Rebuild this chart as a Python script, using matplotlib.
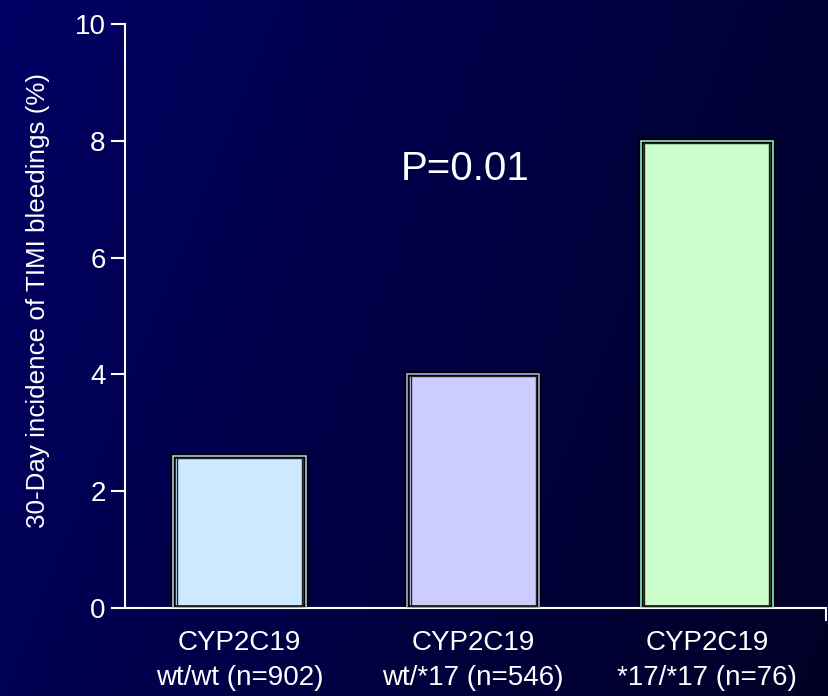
import numpy as np
import matplotlib
matplotlib.use("Agg")
import matplotlib.pyplot as plt

# data
categories = ["CYP2C19\nwt/wt (n=902)", "CYP2C19\nwt/*17 (n=546)", "CYP2C19\n*17/*17 (n=76)"]
values = [2.6, 4.0, 8.0]
bar_colors = ["#cce9ff", "#ccccff", "#ccffcc"]
rim_colors = ["#a8c8e8", "#a8a8e0", "#88e8c8"]
yticks = [0, 2, 4, 6, 8, 10]

plt.rcParams["font.family"] = ["Liberation Sans", "DejaVu Sans"]

fig = plt.figure(figsize=(8.29, 6.96), dpi=100)

# gradient background
bg = fig.add_axes([0, 0, 1, 1], zorder=-10)
gx, gy = np.meshgrid(np.linspace(0, 1, 200), np.linspace(0, 1, 200))
blue = 0.39 - 0.18 * gx - 0.06 * gy
img = np.zeros((200, 200, 3))
img[..., 2] = blue
bg.imshow(img, aspect="auto", extent=[0, 1, 0, 1], origin="upper")
bg.axis("off")

ax = fig.add_axes([0.1508, 0.1264, 0.8456, 0.8391])
ax.patch.set_alpha(0)

x = np.arange(len(values))
w = 0.565
ax.bar(x, values, width=w, color=bar_colors, edgecolor="black", linewidth=4, zorder=2)
ax.bar(x, values, width=w, color="none", edgecolor=rim_colors, linewidth=1.2, zorder=3)
ax.bar(x, np.array(values) - 0.07, bottom=0.035, width=w - 0.03, color="none",
       edgecolor="#222222", linewidth=1.0, zorder=4)

ax.set_xlim(-0.49, 2.51)
ax.set_ylim(0, 10)
ax.set_yticks(yticks)
ax.set_xticks(x)
ax.set_xticklabels(categories, fontsize=20, color="white", linespacing=1.45)
ax.tick_params(axis="x", length=0, pad=16)
ax.tick_params(axis="y", colors="white", labelsize=20, length=10, width=1.5, pad=4)

for s in ["top", "right"]:
    ax.spines[s].set_visible(False)
for s in ["left", "bottom"]:
    ax.spines[s].set_color("white")
    ax.spines[s].set_linewidth(1.5)
ax.plot([1, 1], [0, -0.02], transform=ax.transAxes, color="white", lw=1.5, clip_on=False)

ax.set_ylabel("30-Day incidence of TIMI bleedings (%)", fontsize=18.7, color="white")
ax.yaxis.set_label_coords(-0.107, 0.527)

ax.text(0.965, 7.52, "P=0.01", fontsize=29, color="white", ha="center", va="center")

fig.savefig("out.png", dpi=100, facecolor="#000050")
